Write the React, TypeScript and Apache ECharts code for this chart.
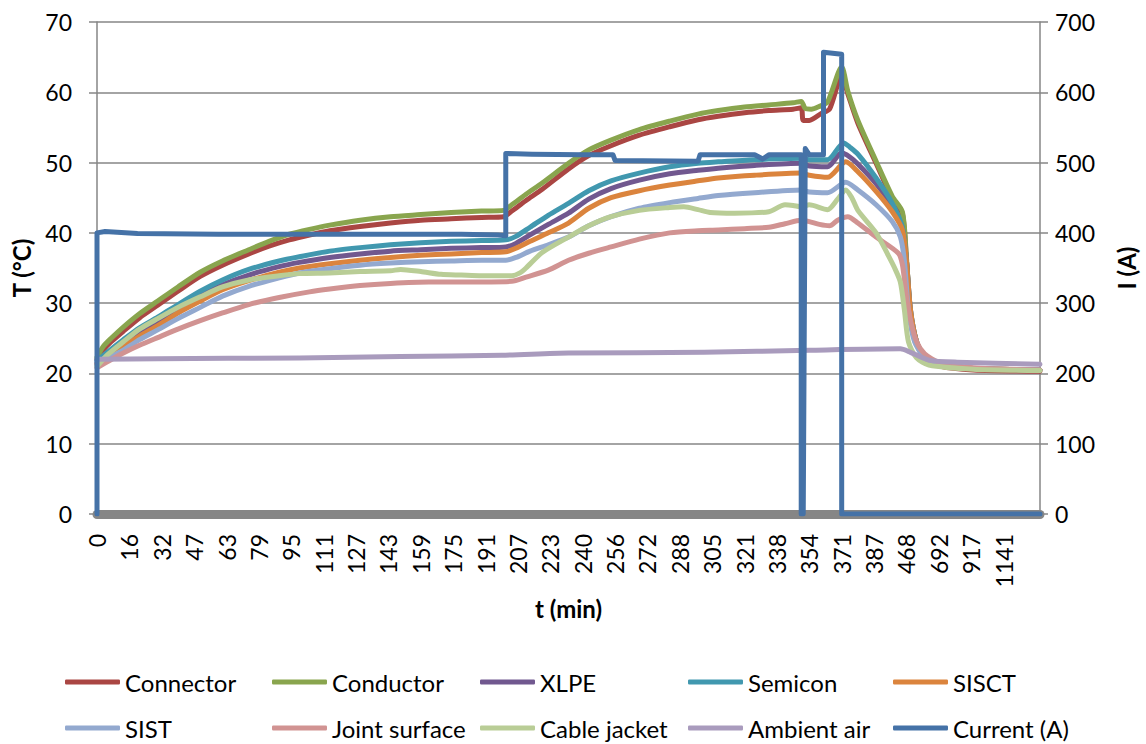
import React, { useEffect, useRef } from "react";
import * as echarts from "echarts";

// ---- tick labels of the category axis (t in min) ----
const tickLabels = [
  "0", "16", "32", "47", "63", "79", "95", "111", "127", "143", "159", "175", "191",
  "207", "223", "240", "256", "272", "288", "305", "321", "338", "354", "371", "387",
  "468", "692", "917", "1141",
];
const SUB = 16; // samples between two shown labels
const N_CAT = 467; // total number of samples

// ---- series values: [sample index, value] ----
const connector = [
  [0, 22.0], [3, 23.3], [7, 24.5], [13, 26.0], [21, 27.9], [30, 29.7], [40, 31.7], [51, 33.8],
  [62, 35.4], [75, 37.0], [85, 38.1], [95, 39.0], [105, 39.7], [115, 40.3], [130, 40.9],
  [145, 41.4], [160, 41.8], [175, 42.0], [190, 42.2], [201, 42.3], [205, 43.1], [212, 44.6],
  [220, 46.2], [233, 49.1], [243, 51.0], [254, 52.4], [268, 53.9], [283, 55.1], [297, 56.1],
  [307, 56.6], [320, 57.1], [332, 57.4], [344, 57.6], [348, 57.8], [349, 56.0], [352, 56.0],
  [358, 57.0], [362, 57.6], [368, 62.3], [371, 59.8], [376, 55.6], [385, 49.9], [393, 44.9],
  [398, 42.7], [400, 36.0], [402, 28.2], [405, 24.3], [409, 22.2], [417, 21.0], [433, 20.5],
  [466, 20.3],
];
const conductor = [
  [0, 22.3], [3, 23.8], [7, 25.0], [13, 26.6], [21, 28.5], [30, 30.3], [40, 32.3], [51, 34.4],
  [62, 36.0], [75, 37.6], [85, 38.8], [95, 39.8], [105, 40.5], [115, 41.1], [130, 41.8],
  [145, 42.3], [160, 42.6], [175, 42.9], [190, 43.1], [201, 43.2], [205, 44.0], [212, 45.5],
  [220, 47.1], [233, 49.9], [243, 51.8], [254, 53.2], [268, 54.7], [283, 55.9], [297, 56.9],
  [307, 57.4], [320, 57.9], [332, 58.2], [344, 58.5], [348, 58.7], [350, 57.7], [353, 57.6],
  [357, 58.0], [361, 58.6], [368, 63.6], [371, 60.2], [376, 56.0], [385, 50.2], [393, 45.2],
  [398, 43.0], [400, 36.5], [402, 28.5], [405, 24.5], [409, 22.4], [417, 21.2], [433, 20.7],
  [466, 20.5],
];
const xlpe = [
  [0, 21.5], [5, 22.7], [13, 24.3], [21, 25.9], [30, 27.4], [40, 29.2], [51, 31.0], [62, 32.6],
  [75, 34.0], [90, 35.2], [100, 35.8], [115, 36.5], [130, 37.0], [145, 37.4], [160, 37.6],
  [175, 37.8], [190, 37.9], [202, 38.0], [207, 38.5], [214, 39.7], [223, 41.2], [233, 42.8],
  [243, 44.8], [254, 46.3], [268, 47.5], [283, 48.4], [297, 48.9], [307, 49.2], [325, 49.6],
  [348, 49.9], [352, 49.5], [361, 49.4], [368, 51.4], [372, 50.8], [376, 49.8], [385, 47.0],
  [393, 43.8], [398, 40.6], [400, 36.0], [402, 29.0], [405, 24.5], [409, 22.3], [417, 21.2],
  [433, 20.7], [466, 20.5],
];
const semicon = [
  [0, 21.8], [5, 23.0], [13, 24.8], [21, 26.5], [30, 28.0], [40, 29.8], [51, 31.7], [62, 33.3],
  [75, 34.8], [90, 36.0], [100, 36.6], [115, 37.4], [130, 37.9], [145, 38.3], [160, 38.6],
  [175, 38.8], [190, 38.9], [202, 39.0], [207, 39.5], [214, 40.8], [223, 42.5], [233, 44.2],
  [243, 46.0], [254, 47.4], [268, 48.5], [283, 49.4], [297, 49.9], [307, 50.1], [325, 50.4],
  [348, 50.6], [352, 50.4], [361, 50.4], [369, 52.8], [372, 52.2], [376, 51.2], [385, 47.8],
  [393, 44.2], [398, 40.8], [400, 36.0], [402, 29.0], [405, 24.5], [409, 22.3], [417, 21.2],
  [433, 20.7], [466, 20.5],
];
const sisct = [
  [0, 21.3], [5, 22.4], [13, 23.8], [21, 25.3], [30, 26.8], [40, 28.6], [51, 30.3], [62, 31.9],
  [75, 33.2], [90, 34.4], [100, 35.0], [115, 35.6], [130, 36.1], [145, 36.5], [160, 36.8],
  [175, 37.0], [190, 37.2], [202, 37.3], [207, 37.8], [214, 38.8], [223, 40.0], [233, 41.4],
  [243, 43.5], [254, 45.0], [268, 46.0], [283, 46.8], [297, 47.4], [307, 47.8], [325, 48.2],
  [348, 48.5], [352, 48.2], [361, 47.9], [370, 50.1], [376, 48.7], [385, 45.9], [393, 43.0],
  [398, 40.4], [400, 36.0], [402, 29.0], [405, 24.5], [409, 22.3], [417, 21.2], [433, 20.7],
  [466, 20.5],
];
const sist = [
  [0, 21.2], [5, 22.1], [13, 23.3], [21, 24.8], [30, 26.2], [40, 27.8], [51, 29.4], [62, 31.0],
  [75, 32.4], [90, 33.6], [100, 34.3], [115, 34.9], [130, 35.4], [145, 35.7], [160, 35.9],
  [175, 36.0], [190, 36.1], [202, 36.1], [207, 36.5], [214, 37.4], [223, 38.3], [233, 39.4],
  [243, 41.0], [254, 42.3], [268, 43.5], [283, 44.3], [297, 44.9], [307, 45.3], [325, 45.7],
  [348, 46.1], [352, 45.8], [361, 45.7], [370, 47.2], [376, 46.1], [385, 44.0], [393, 41.6],
  [397, 39.4], [399, 36.0], [401, 29.0], [404, 24.5], [409, 22.3], [417, 21.2], [433, 20.7],
  [466, 20.5],
];
const jointSurface = [
  [0, 20.8], [6, 21.8], [13, 22.9], [21, 24.0], [30, 25.1], [40, 26.3], [51, 27.5], [62, 28.6],
  [75, 29.8], [90, 30.8], [105, 31.6], [115, 32.0], [130, 32.5], [145, 32.8], [164, 33.0],
  [180, 33.0], [205, 33.1], [212, 33.7], [223, 34.7], [233, 36.1], [243, 37.1], [254, 38.0],
  [268, 39.1], [283, 40.0], [297, 40.3], [307, 40.4], [320, 40.6], [332, 40.8], [340, 41.3],
  [348, 41.8], [352, 41.6], [357, 41.2], [362, 41.0], [366, 41.8], [371, 42.3], [376, 41.4],
  [385, 39.4], [396, 37.1], [398, 35.5], [400, 31.0], [402, 27.6], [405, 24.5], [409, 22.8],
  [416, 21.6], [433, 20.8], [466, 20.5],
];
const cableJacket = [
  [0, 21.0], [5, 22.6], [13, 24.5], [21, 26.3], [30, 27.8], [40, 29.4], [51, 30.9], [62, 32.3],
  [75, 33.3], [90, 33.9], [100, 34.2], [115, 34.3], [130, 34.5], [145, 34.6], [150, 34.8],
  [160, 34.5], [170, 34.1], [180, 34.0], [190, 33.9], [205, 33.9], [209, 34.3], [212, 35.0],
  [220, 37.2], [233, 39.4], [243, 41.0], [254, 42.3], [268, 43.2], [283, 43.6], [290, 43.7],
  [297, 43.3], [303, 42.9], [315, 42.8], [332, 43.0], [340, 44.0], [344, 43.9], [348, 43.7],
  [352, 44.0], [361, 43.3], [366, 44.8], [370, 46.1], [373, 45.0], [376, 43.2], [385, 40.0],
  [391, 36.8], [394, 35.1], [397, 33.0], [399, 29.0], [401, 24.5], [405, 22.2], [411, 21.2],
  [433, 20.6], [466, 20.4],
];
const ambientAir = [
  [0, 22.0], [30, 22.1], [100, 22.2], [150, 22.4], [200, 22.6], [233, 22.9], [300, 23.0],
  [352, 23.3], [397, 23.5], [402, 23.0], [411, 21.9], [425, 21.6], [466, 21.3],
];
const current = [
  [0, 0], [0, 400], [4, 402], [10, 401], [20, 399], [60, 398], [120, 398], [180, 398],
  [198, 397], [202, 396], [202, 513], [215, 512], [240, 511], [255, 511], [256, 503],
  [297, 502], [298, 511], [325, 511], [329, 505], [332, 511], [348, 511], [348, 0], [349, 0],
  [350, 520], [352, 511], [359, 511], [359, 657], [368, 654], [368, 0], [466, 0],
];

const seriesNames = [
  "Connector", "Conductor", "XLPE", "Semicon", "SISCT",
  "SIST", "Joint surface", "Cable jacket", "Ambient air", "Current (A)",
];
const seriesColors = [
  "#AA4643", "#89A54E", "#71588F", "#4198AF", "#DB843D",
  "#93A9CF", "#D19392", "#B9CD96", "#A99BBD", "#4572A7",
];
const seriesData = [
  connector, conductor, xlpe, semicon, sisct,
  sist, jointSurface, cableJacket, ambientAir, current,
];

const FONT = "Lato, 'Liberation Sans', sans-serif";

export default function App() {
  const ref = useRef<HTMLDivElement>(null);
  useEffect(() => {
    document.body.style.margin = "0";
    if (!ref.current) return;
    const chart = echarts.init(ref.current, null, { renderer: "svg" });

    const categories: string[] = [];
    for (let i = 0; i < N_CAT; i++) {
      categories.push(i % SUB === 0 && tickLabels[i / SUB] !== undefined ? tickLabels[i / SUB] : "");
    }

    const legendCols = [65, 272, 480, 688, 893];
    const legendRows = [670, 716];
    const legends = seriesNames.map((n, i) => ({
      data: [n],
      left: legendCols[i % 5],
      top: legendRows[Math.floor(i / 5)],
      padding: 0,
      itemWidth: 55,
      itemHeight: 5,
      itemGap: 0,
      icon: "roundRect",
      textStyle: { fontFamily: FONT, fontSize: 24, color: "#000", padding: [0, 0, 0, 0] },
    }));

    const series = seriesNames.map((n, i) => ({
      name: n,
      type: "line",
      yAxisIndex: i === 9 ? 1 : 0,
      data: seriesData[i],
      showSymbol: false,
      symbol: "none",
      smooth: i === 9 ? false : 0.25,
      color: seriesColors[i],
      lineStyle: { width: 5, color: seriesColors[i], join: "round", cap: "round" },
      itemStyle: { color: seriesColors[i] },
    }));

    const axisGray = "#868686";
    const titleStyle = { fontFamily: FONT, fontSize: 24, fontWeight: "bold", color: "#000" };
    chart.setOption({
      animation: false,
      grid: { left: 97, right: 104, top: 22, bottom: 230, containLabel: false },
      legend: legends,
      xAxis: {
        type: "category",
        data: categories,
        boundaryGap: false,
        offset: 4,
        axisLine: { show: true, lineStyle: { color: axisGray, width: 9 } },
        axisTick: { show: false },
        axisLabel: {
          interval: 0,
          rotate: 90,
          margin: 16,
          fontFamily: FONT,
          fontSize: 23,
          color: "#000",
        },
        splitLine: { show: false },
        name: "t (min)",
        nameLocation: "middle",
        nameGap: 78,
        nameTextStyle: titleStyle,
      },
      yAxis: [
        {
          type: "value",
          min: 0,
          max: 70,
          interval: 10,
          position: "left",
          axisLine: { show: true, lineStyle: { color: axisGray, width: 1.5 } },
          axisTick: { show: true, length: 8, lineStyle: { color: axisGray, width: 1.5 } },
          axisLabel: { margin: 25, fontFamily: FONT, fontSize: 23, color: "#000" },
          splitLine: { show: true, lineStyle: { color: axisGray, width: 1.5 } },
          name: "T (°C)",
          nameLocation: "middle",
          nameGap: 64,
          nameTextStyle: titleStyle,
        },
        {
          type: "value",
          min: 0,
          max: 700,
          interval: 100,
          position: "right",
          axisLine: { show: true, lineStyle: { color: axisGray, width: 1.5 } },
          axisTick: { show: true, length: 8, lineStyle: { color: axisGray, width: 1.5 } },
          axisLabel: { margin: 15, fontFamily: FONT, fontSize: 23, color: "#000" },
          splitLine: { show: false },
          name: "I (A)",
          nameLocation: "middle",
          nameGap: 74,
          nameTextStyle: titleStyle,
        },
      ],
      series,
    });
    return () => chart.dispose();
  }, []);
  return <div ref={ref} style={{ width: 1146, height: 744 }} />;
}
